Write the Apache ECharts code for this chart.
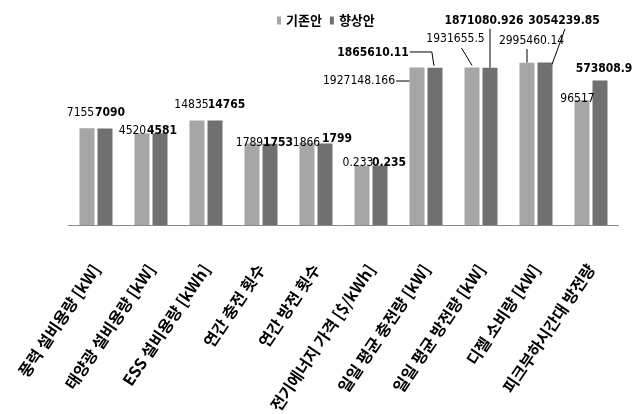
<!DOCTYPE html>
<html>
<head>
<meta charset="utf-8">
<script src="https://cdn.jsdelivr.net/npm/echarts@6/dist/echarts.min.js"></script>
<style>
html,body{margin:0;padding:0;background:#fff;}
#c{width:642px;height:414px;}
</style>
</head>
<body>
<div id="c"></div>
<script>
// ---- data ----
const categories = ['풍력 설비용량 [kW]', '태양광 설비용량 [kW]', 'ESS 설비용량 [kWh]', '연간 충전 횟수', '연간 방전 횟수',
  '전기에너지 가격 [$/kWh]', '일일 평균 충전량 [kW]', '일일 평균 방전량 [kW]', '디젤 소비량 [kW]', '피크부하시간대 방전량'];
const seriesNames = ['기존안', '향상안'];
const baseValues = [7155, 4520, 14835, 1789, 1866, 0.233, 1927148.166, 1931655.5, 2995460.14, 96517];
const improvedValues = [7090, 4581, 14765, 1753, 1799, 0.235, 1865610.11, 1871080.926, 3054239.85, 573808.9];
// the price row is drawn in a 1/1000 unit in the original chart (log scale bar height)
const plotFactor = [1, 1, 1, 1, 1, 1000, 1, 1, 1, 1];

// ---- label placement (style only) ----
const baseOffsets = [[-6.5,-4.4],[-9.5,8.6],[-5.5,-4.4],[-2.5,10.5],[-0.5,11],[-4,8.4],[-58,24.6],[-16.5,-17.4],[4.5,-10.6],[-4.5,10]];
const impOffsets = [[5,-4.5],[2,8.8],[11.5,-4.5],[8,10.3],[12,6.6],[9,8.4],[-62,-3.8],[-6,-35.8],[19,-30.4],[4,-0.6]];
// leader line kinds: 'h' horizontal to bar side, 'hd' stub then diagonal, 'd' diagonal from label bottom, 'v' vertical
const baseLeader = [null,null,null,null,null,null,'h','d','v',null];
const impLeader = [null,null,null,null,null,null,'hd','v','d2',null];

const LABEL_SIZE = 12;
const numFont = "'Liberation Sans Narrow','DejaVu Sans Condensed','Liberation Sans',sans-serif";
const krFont = "'Noto Sans CJK KR','Malgun Gothic',sans-serif";
const BAR_W = 15, BAR_SHIFT = 9;

function buildData(values, offsets) {
  return values.map((v, i) => ({ value: v * plotFactor[i], label: { offset: offsets[i] } }));
}

const chart = echarts.init(document.getElementById('c'), null, { renderer: 'canvas' });
chart.setOption({
  animation: false,
  backgroundColor: '#fff',
  legend: {
    top: 9, left: 272,
    itemWidth: 4, itemHeight: 8, itemGap: 8,
    icon: 'rect',
    textStyle: { fontFamily: krFont, fontWeight: 'bold', fontSize: 13, color: '#000' },
    data: seriesNames
  },
  grid: { left: 68.5, right: 23.5, top: 49.5, bottom: 189, containLabel: false, outerBoundsMode: 'none' },
  xAxis: {
    type: 'category',
    data: categories,
    axisLine: { lineStyle: { color: '#8a8a8a', width: 1 } },
    axisTick: { show: false },
    axisLabel: { rotate: 56, margin: 41, interval: 0, fontFamily: krFont, fontWeight: 'bold', fontSize: 16, color: '#000' }
  },
  yAxis: {
    type: 'log', logBase: 10, min: 1, max: 1e7,
    show: false, splitLine: { show: false }
  },
  series: [
    {
      name: seriesNames[0], type: 'bar', barWidth: BAR_W, barGap: '20%',
      itemStyle: { color: '#a6a6a6' },
      label: {
        show: true, position: 'top', distance: 5,
        fontFamily: numFont, fontSize: LABEL_SIZE, color: '#000',
        formatter: p => String(baseValues[p.dataIndex])
      },
      data: buildData(baseValues, baseOffsets)
    },
    {
      name: seriesNames[1], type: 'bar', barWidth: BAR_W, barGap: '20%',
      itemStyle: { color: '#707070' },
      label: {
        show: true, position: 'top', distance: 5,
        fontFamily: numFont, fontSize: LABEL_SIZE, fontWeight: 'bold', color: '#000',
        formatter: p => String(improvedValues[p.dataIndex])
      },
      data: buildData(improvedValues, impOffsets)
    }
  ]
});

// ---- leader lines, positioned from the chart's own scales ----
const ctx = document.createElement('canvas').getContext('2d');
function textW(t, bold) {
  ctx.font = (bold ? 'bold ' : '') + LABEL_SIZE + 'px ' + numFont;
  return ctx.measureText(t).width;
}
const lines = [];
function addLeaders(values, offsets, kinds, sign, bold) {
  values.forEach((v, i) => {
    const k = kinds[i];
    if (!k) return;
    const cx = chart.convertToPixel({ xAxisIndex: 0 }, i);
    const bx = cx + sign * BAR_SHIFT;
    const top = chart.convertToPixel({ yAxisIndex: 0 }, v * plotFactor[i]);
    const lx = bx + offsets[i][0];
    const ly = top - 5 - LABEL_SIZE / 2 + offsets[i][1];
    const w = textW(String(v), bold);
    const bottom = ly + LABEL_SIZE / 2 + 1;
    let pts;
    if (k === 'h') pts = [[lx + w / 2 + 1, ly], [bx - BAR_W / 2, ly]];
    else if (k === 'hd') pts = [[lx + w / 2 + 1, ly - 1], [lx + w / 2 + 23, ly - 1], [bx - 1, top - 2]];
    else if (k === 'd') pts = [[lx + 6, bottom + 2], [bx, top - 2]];
    else if (k === 'd2') pts = [[lx + 1, bottom + 1], [bx + 7, top + 2]];
    else pts = [[bx, bottom + 1], [bx, top]];
    lines.push({
      type: 'polyline', silent: true, z: 100,
      shape: { points: pts },
      style: { stroke: '#000', lineWidth: 1, fill: null }
    });
  });
}
addLeaders(baseValues, baseOffsets, baseLeader, -1, false);
addLeaders(improvedValues, impOffsets, impLeader, 1, true);
chart.setOption({ graphic: { elements: lines } });
</script>
</body>
</html>
